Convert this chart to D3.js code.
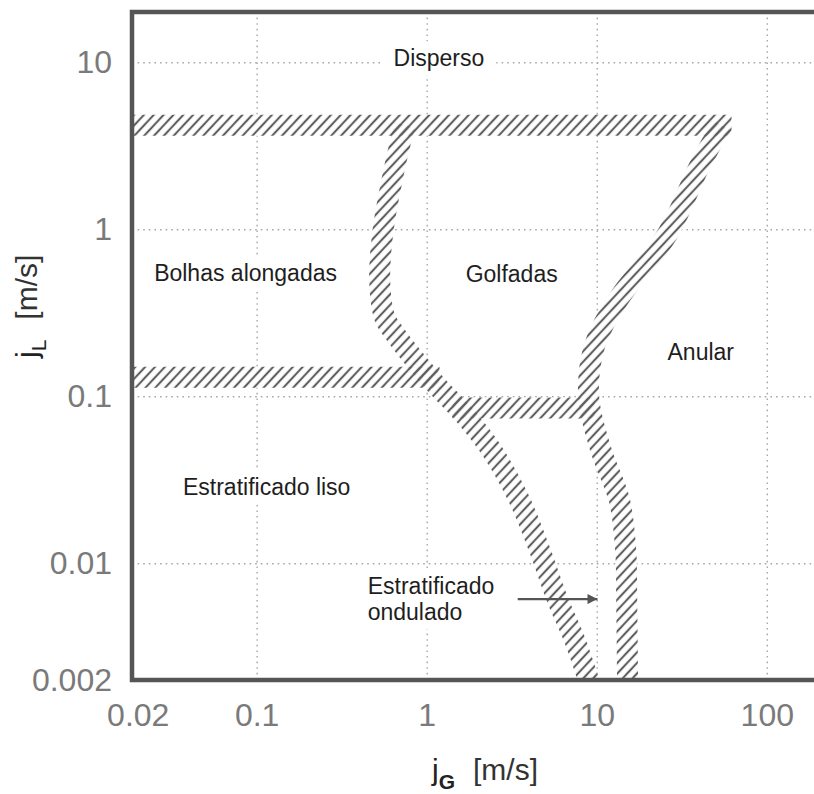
<!DOCTYPE html>
<html>
<head>
<meta charset="utf-8">
<script src="https://cdn.jsdelivr.net/npm/d3@7"></script>
<style>
  body { margin: 0; background: #fff; }
  svg { display: block; font-family: "Liberation Sans", Arial, sans-serif; }
</style>
</head>
<body>
<svg id="mapa" width="814" height="794"></svg>
<script>
// ticks dos eixos
var jgTicks = [0.02, 0.1, 1, 10, 100];
var jgLabels = ["0.02", "0.1", "1", "10", "100"];
var jlTicks = [0.002, 0.01, 0.1, 1, 10];
var jlLabels = ["0.002", "0.01", "0.1", "1", "10"];
var gradeJG = [0.1, 1, 10, 100];
var gradeJL = [0.01, 0.1, 1, 10];

// faixas de transicao [jG, jL]
var faixaDisperso = [[0.017, 4.2], [62, 4.2]];
var faixaAnular = [[54.3, 4.2], [40.4, 2.42], [26.2, 0.946], [13.3, 0.376], [9.73, 0.202],
  [8.97, 0.0986], [10.6, 0.0475], [13.6, 0.0238], [14.8, 0.012], [15.0, 0.006], [15.2, 0.0017]];
var faixaBolhas = [[0.743, 4.2], [0.648, 2.35], [0.551, 0.946], [0.530, 0.475], [0.566, 0.297],
  [0.648, 0.238], [0.794, 0.181], [1.146, 0.116], [1.675, 0.0769], [2.41, 0.0475],
  [3.52, 0.0238], [4.62, 0.012], [5.90, 0.006], [7.43, 0.00346], [9.35, 0.00174]];
var faixaLiso = [[0.017, 0.13], [1.19, 0.13]];
var faixaOndulado = [[1.42, 0.085], [9.7, 0.085]];

// nomes dos regimes [texto, jG, jL, ancora]
var regimes = [
  ["Disperso", 1.18, 9.46, "middle"],
  ["Bolhas alongadas", 0.0861, 0.489, "middle"],
  ["Golfadas", 3.16, 0.482, "middle"],
  ["Anular", 40.9, 0.164, "middle"],
  ["Estratificado liso", 0.1146, 0.0255, "middle"],
  ["Estratificado", 0.45, 0.00652, "start"],
  ["ondulado", 0.45, 0.00456, "start"]
];
var seta = [[3.43, 0.0061], [10.1, 0.0061]];

var svg = d3.select("#mapa");
var x = d3.scaleLog().domain([0.0185, 200]).range([132, 818]);
var y = d3.scaleLog().domain([0.002, 20]).range([680, 12]);

var defs = svg.append("defs");
defs.append("clipPath").attr("id", "area")
  .append("rect")
  .attr("x", x.range()[0]).attr("y", y.range()[1])
  .attr("width", x.range()[1] - x.range()[0])
  .attr("height", y.range()[0] - y.range()[1]);

defs.append("pattern")
  .attr("id", "hachura")
  .attr("patternUnits", "userSpaceOnUse")
  .attr("width", 7.2).attr("height", 7.2)
  .attr("patternTransform", "rotate(43)")
  .append("line")
  .attr("x1", 3.6).attr("y1", 0).attr("x2", 3.6).attr("y2", 7.2)
  .attr("stroke", "#5e5e5e").attr("stroke-width", 2.1);

defs.append("marker")
  .attr("id", "ponta")
  .attr("viewBox", "0 0 10 10")
  .attr("refX", 10).attr("refY", 5)
  .attr("markerWidth", 14).attr("markerHeight", 10)
  .attr("markerUnits", "userSpaceOnUse")
  .attr("orient", "auto")
  .append("path").attr("d", "M0,0L10,5L0,10Z").attr("fill", "#555");

// grade pontilhada
var gx = svg.append("g")
  .attr("transform", "translate(0," + y.range()[0] + ")")
  .call(d3.axisBottom(x).tickValues(gradeJG).tickFormat("")
    .tickSize(-(y.range()[0] - y.range()[1])));
var gy = svg.append("g")
  .attr("transform", "translate(" + x.range()[0] + ",0)")
  .call(d3.axisLeft(y).tickValues(gradeJL).tickFormat("")
    .tickSize(-(x.range()[1] - x.range()[0])));
[gx, gy].forEach(function(g) {
  g.select(".domain").remove();
  g.selectAll("line")
    .attr("stroke", "#a8a8a8")
    .attr("stroke-width", 1.4)
    .attr("stroke-dasharray", "1.6,4");
});

// fundo branco dos textos
var fundos = svg.append("g");

// faixas
var linha = d3.line()
  .x(function(d) { return x(d[0]); })
  .y(function(d) { return y(d[1]); });
var curva = d3.line()
  .x(function(d) { return x(d[0]); })
  .y(function(d) { return y(d[1]); })
  .curve(d3.curveCatmullRom.alpha(0.5));

var faixas = [
  [faixaDisperso, linha],
  [faixaLiso, linha],
  [faixaOndulado, linha],
  [faixaAnular, curva],
  [faixaBolhas, curva]
];
var gf = svg.append("g").attr("clip-path", "url(#area)");
faixas.forEach(function(f) {
  gf.append("path")
    .attr("d", f[1](f[0]))
    .attr("fill", "none")
    .attr("stroke", "#fff")
    .attr("stroke-width", 21);
});
faixas.forEach(function(f) {
  gf.append("path")
    .attr("d", f[1](f[0]))
    .attr("fill", "none")
    .attr("stroke", "url(#hachura)")
    .attr("stroke-width", 21);
});

// moldura
svg.append("rect")
  .attr("x", x.range()[0]).attr("y", y.range()[1])
  .attr("width", x.range()[1] - x.range()[0])
  .attr("height", y.range()[0] - y.range()[1])
  .attr("fill", "none")
  .attr("stroke", "#555")
  .attr("stroke-width", 4.5);

// rotulos dos eixos
var ax = svg.append("g")
  .attr("transform", "translate(0," + y.range()[0] + ")")
  .call(d3.axisBottom(x).tickValues(jgTicks)
    .tickFormat(function(d, i) { return jgLabels[i]; })
    .tickSize(0).tickPadding(23));
var ay = svg.append("g")
  .attr("transform", "translate(" + x.range()[0] + ",0)")
  .call(d3.axisLeft(y).tickValues(jlTicks)
    .tickFormat(function(d, i) { return jlLabels[i]; })
    .tickSize(0).tickPadding(20));
[ax, ay].forEach(function(g) {
  g.select(".domain").remove();
  g.selectAll("text")
    .attr("fill", "#7a7a7a")
    .style("font-size", "32px")
    .style("font-family", "'Liberation Sans', Arial, sans-serif");
});

// nomes dos regimes
var textos = svg.append("g").selectAll("text")
  .data(regimes)
  .enter()
  .append("text")
  .attr("x", function(d) { return x(d[1]); })
  .attr("y", function(d) { return y(d[2]); })
  .attr("text-anchor", function(d) { return d[3]; })
  .attr("fill", "#1e1e1e")
  .style("font-size", "23px")
  .text(function(d) { return d[0]; });

textos.each(function() {
  var b = this.getBBox();
  fundos.append("rect")
    .attr("x", b.x - 12).attr("y", b.y - 4)
    .attr("width", b.width + 24).attr("height", b.height + 8)
    .attr("fill", "#fff");
});

svg.append("path")
  .attr("d", linha(seta))
  .attr("stroke", "#555")
  .attr("stroke-width", 2.2)
  .attr("marker-end", "url(#ponta)");

// titulos
var tx = svg.append("text")
  .attr("x", 432).attr("y", 780)
  .attr("fill", "#222")
  .style("font-size", "30px");
tx.append("tspan").text("j");
tx.append("tspan").attr("dy", 9).style("font-size", "21px").style("font-weight", "bold").text("G");
tx.append("tspan").attr("dx", 18).attr("dy", -9).attr("fill", "#333").text("[m/s]");

var ty = svg.append("text")
  .attr("transform", "translate(37,358) rotate(-90)")
  .attr("fill", "#222")
  .style("font-size", "30px");
ty.append("tspan").text("j");
ty.append("tspan").attr("dy", 9).style("font-size", "21px").text("L");
ty.append("tspan").attr("dx", 20).attr("dy", -9).attr("fill", "#333").text("[m/s]");
</script>
</body>
</html>
